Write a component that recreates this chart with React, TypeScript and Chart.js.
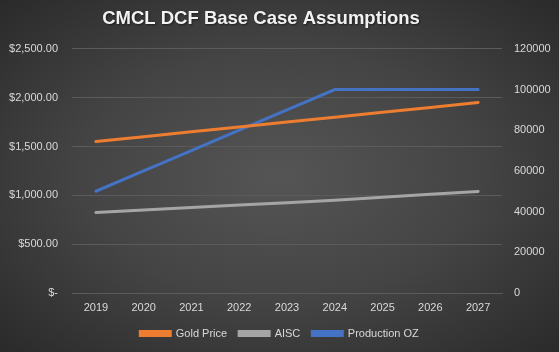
import React, { useEffect, useRef } from "react";
import { Chart, registerables } from "chart.js";

Chart.register(...registerables);

const years = ["2019", "2020", "2021", "2022", "2023", "2024", "2025", "2026", "2027"];
const goldPrice = [1550, 1600, 1650, 1700, 1750, 1800, 1850, 1900, 1950];
const aisc = [825, 850, 875, 900, 925, 950, 980, 1010, 1040];
const productionOz = [50000, 60000, 70000, 80000, 90000, 100000, 100000, 100000, 100000];
const titleText = "CMCL DCF Base Case Assumptions";

const TEXT = "#d9d9d9";
const GRID = "#5b5b5b";
const FONT = "'Liberation Sans', Arial, sans-serif";

const titleDraw = {
  id: "titleDraw",
  afterDraw(chart: any) {
    const ctx = chart.ctx;
    ctx.save();
    ctx.font = `bold 18.5px ${FONT}`;
    ctx.fillStyle = "#f2f2f2";
    ctx.textAlign = "center";
    ctx.textBaseline = "middle";
    ctx.shadowColor = "rgba(0,0,0,0.5)";
    ctx.shadowBlur = 2;
    ctx.shadowOffsetX = 1;
    ctx.shadowOffsetY = 1;
    ctx.fillText(titleText, 261, 19);
    ctx.restore();
  },
};

export default function App() {
  const ref = useRef<HTMLCanvasElement | null>(null);

  useEffect(() => {
    if (!ref.current) return;
    const chart = new Chart(ref.current, {
      type: "line",
      data: {
        labels: years,
        datasets: [
          {
            label: "Gold Price",
            data: goldPrice,
            borderColor: "#ED7D31",
            backgroundColor: "#ED7D31",
            borderWidth: 3,
            pointRadius: 0,
            borderCapStyle: "round",
            yAxisID: "y",
          },
          {
            label: "AISC",
            data: aisc,
            borderColor: "#A5A5A5",
            backgroundColor: "#A5A5A5",
            borderWidth: 3,
            pointRadius: 0,
            borderCapStyle: "round",
            yAxisID: "y",
          },
          {
            label: "Production OZ",
            data: productionOz,
            borderColor: "#4472C4",
            backgroundColor: "#4472C4",
            borderWidth: 3,
            pointRadius: 0,
            borderCapStyle: "round",
            yAxisID: "y1",
          },
        ],
      },
      plugins: [titleDraw],
      options: {
        responsive: false,
        animation: false,
        devicePixelRatio: 1,
        layout: { padding: { left: 0, right: 0, top: 0, bottom: 3 } },
        plugins: {
          title: {
            display: true,
            text: titleText,
            color: "rgba(0,0,0,0)",
            font: { family: FONT, size: 19, weight: "bold" },
            padding: { top: 8, bottom: 18 },
          },
          legend: {
            position: "bottom",
            labels: {
              color: TEXT,
              font: { family: FONT, size: 11 },
              boxWidth: 30,
              boxHeight: 4,
              padding: 12,
            },
          },
          tooltip: { enabled: false },
        },
        scales: {
          x: {
            offset: true,
            grid: { display: false, drawTicks: false },
            border: { display: true, color: GRID },
            ticks: { color: TEXT, font: { family: FONT, size: 11 }, padding: 8, maxRotation: 0 },
            afterFit: (s: any) => {
              s.height = 23;
            },
          },
          y: {
            position: "left",
            min: 0,
            max: 2500,
            grid: { color: GRID, drawTicks: false },
            border: { display: false },
            ticks: {
              stepSize: 500,
              color: TEXT,
              font: { family: FONT, size: 11 },
              padding: 14,
              callback: (v: any) =>
                v === 0
                  ? "$-"
                  : "$" + Number(v).toLocaleString("en-US", { minimumFractionDigits: 2, maximumFractionDigits: 2 }),
            },
            afterFit: (s: any) => {
              s.width = 72;
            },
          },
          y1: {
            position: "right",
            min: 0,
            max: 120000,
            grid: { display: false, drawTicks: false },
            border: { display: false },
            ticks: {
              stepSize: 20000,
              color: TEXT,
              font: { family: FONT, size: 11 },
              padding: 12,
              callback: (v: any) => String(v),
            },
            afterFit: (s: any) => {
              s.width = 57;
            },
          },
        },
      },
    });
    return () => chart.destroy();
  }, []);

  return (
    <div
      style={{
        position: "absolute",
        left: 0,
        top: 0,
        width: 559,
        height: 352,
        background: "radial-gradient(ellipse at 50% 50%, #555555 0%, #444444 50%, #2a2a2a 100%)",
      }}
    >
      <canvas ref={ref} width={559} height={352} />
    </div>
  );
}
